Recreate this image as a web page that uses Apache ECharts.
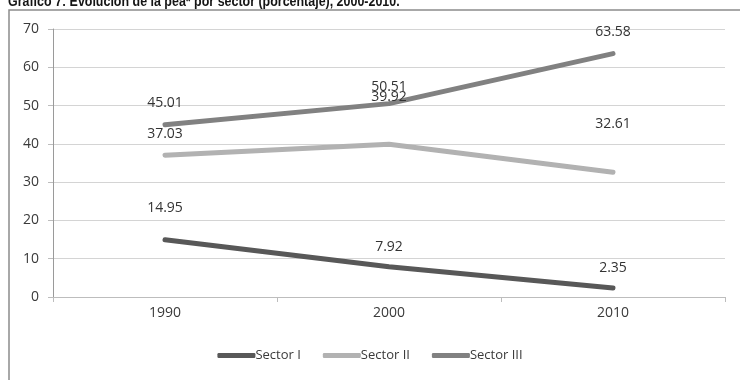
<!DOCTYPE html>
<html><head><meta charset="utf-8">
<script src="https://cdn.jsdelivr.net/npm/echarts@6/dist/echarts.min.js"></script>
<style>html,body{margin:0;padding:0;background:#fff}#c{width:740px;height:380px}</style>
</head><body><div id="c"></div>
<script>
const titleText = "Gráfico 7: Evolución de la pea* por sector (porcentaje), 2000-2010.";
const categories = ["1990", "2000", "2010"];
const seriesNames = ["Sector I", "Sector II", "Sector III"];
const sector1 = [14.95, 7.92, 2.35];
const sector2 = [37.03, 39.92, 32.61];
const sector3 = [45.01, 50.51, 63.58];

const colors = ["#585858", "#b2b2b2", "#818181"];
const labelLift = [[24, 12, 12], [14, 40, 41], [14, 9, 14]];
const dataSets = [sector1, sector2, sector3];

const chart = echarts.init(document.getElementById('c'), null, {renderer: 'canvas'});
const font = '"Open Sans", "Noto Sans", sans-serif';
chart.setOption({
  animation: false,
  graphic: [{
    type: 'polyline', silent: true,
    shape: {points: [[9, 400], [9, 10], [760, 10]]},
    style: {stroke: '#8c8c8c', lineWidth: 1.5, fill: null}
  }, {
    type: 'text', silent: true, x: 8, y: -6, scaleX: 0.83,
    style: {text: titleText, fill: '#151515', verticalAlign: 'top',
      font: 'bold 15px "Liberation Sans", Arial, sans-serif'}
  }],
  grid: {left: 53, right: 15, top: 29, bottom: 83},
  legend: {
    bottom: 13, left: 'center', itemWidth: 38, itemHeight: 5, itemGap: 22,
    icon: 'roundRect',
    textStyle: {fontFamily: font, fontSize: 13, color: '#3a3a3a', padding: [0, 0, 0, -5]},
    data: seriesNames
  },
  xAxis: {
    type: 'category', data: categories, boundaryGap: true,
    axisLine: {lineStyle: {color: '#bdbdbd', width: 1}},
    axisTick: {show: true, length: 5, lineStyle: {color: '#bdbdbd'}},
    axisLabel: {fontFamily: font, fontSize: 14, color: '#3a3a3a', margin: 9}
  },
  yAxis: {
    type: 'value', min: 0, max: 70, interval: 10,
    axisLine: {show: true, lineStyle: {color: '#9a9a9a'}},
    axisTick: {show: true, length: 5, lineStyle: {color: '#bdbdbd'}},
    splitLine: {lineStyle: {color: '#d4d4d4', width: 1}},
    axisLabel: {fontFamily: font, fontSize: 14, color: '#3a3a3a', margin: 14}
  },
  series: dataSets.map((d, i) => ({
    name: seriesNames[i], type: 'line', showSymbol: true, symbol: 'circle', symbolSize: 1,
    data: d.map((v, j) => ({value: v, label: {distance: labelLift[i][j]}})),
    lineStyle: {color: colors[i], width: 5, cap: 'round'},
    itemStyle: {color: colors[i]},
    label: {show: true, position: 'top', fontFamily: font, fontSize: 14, color: '#333',
      formatter: p => p.value.toFixed(2)}
  }))
});
</script></body></html>
